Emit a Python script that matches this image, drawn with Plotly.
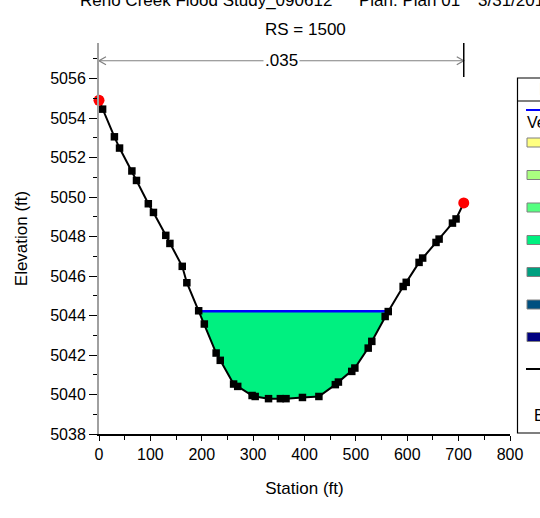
import numpy as np
import plotly.graph_objects as go

# ---------------- data ----------------
ground_sta = [0, 7, 30, 40, 64, 73, 96, 106, 130, 138, 162, 171, 194, 205, 228, 236,
              262, 270, 298, 304, 330, 353, 364, 396, 428, 460, 466, 492, 498, 524,
              531, 557, 563, 592, 598, 623, 630, 656, 662, 688, 695, 710]
ground_elev = [5054.90, 5054.45, 5053.05, 5052.48, 5051.32, 5050.84, 5049.66, 5049.22,
               5048.06, 5047.65, 5046.49, 5045.66, 5044.24, 5043.57, 5042.10, 5041.73,
               5040.53, 5040.41, 5039.95, 5039.90, 5039.79, 5039.79, 5039.79, 5039.85,
               5039.90, 5040.50, 5040.63, 5041.17, 5041.34, 5042.35, 5042.69, 5043.95,
               5044.20, 5045.47, 5045.68, 5046.69, 5046.91, 5047.70, 5047.87, 5048.68,
               5048.89, 5049.70]
bank_sta = [0, 710]
bank_elev = [5054.90, 5049.70]
ws_elev = 5044.22
n_value_label = ".035"
n_value_elev = 5056.9
x_ticks = [0, 100, 200, 300, 400, 500, 600, 700, 800]
y_ticks = [5038, 5040, 5042, 5044, 5046, 5048, 5050, 5052, 5054, 5056]
legend_colors = ["#FFFF80", "#AAFF80", "#55FF80", "#00F080", "#00A080", "#005080", "#000080"]

# ---------------- layout geometry (pixels) ----------------
W, H = 540, 518
L, R, T, B = 99, 510, 43, 434
XR = [0, 800]
YR = [5038, 5057.8]

def px(xp):
    return (xp - L) / (R - L)

def py(yp):
    return (B - yp) / (B - T)

FONT = "Liberation Sans, Arial, sans-serif"

gs = np.array(ground_sta, float)
ge = np.array(ground_elev, float)

# water surface crossing points on each bank
imin = int(np.argmin(ge))
left_x = float(np.interp(ws_elev, ge[:imin + 1][::-1], gs[:imin + 1][::-1]))
right_x = float(np.interp(ws_elev, ge[imin:], gs[imin:]))
inside = (gs > left_x) & (gs < right_x)
fill_x = [left_x] + list(gs[inside]) + [right_x]
fill_y = [ws_elev] + list(ge[inside]) + [ws_elev]

fig = go.Figure()
fig.add_trace(go.Scatter(x=fill_x, y=fill_y, fill="toself", fillcolor="#00F080",
                         mode="none", hoverinfo="skip", showlegend=False))
fig.add_trace(go.Scatter(x=[left_x, right_x], y=[ws_elev, ws_elev], mode="lines",
                         line=dict(color="#0000FF", width=2.5), showlegend=False))
fig.add_trace(go.Scatter(x=ground_sta, y=ground_elev, mode="lines+markers",
                         line=dict(color="black", width=2),
                         marker=dict(symbol="square", size=7.5, color="black"),
                         cliponaxis=False, showlegend=False))
fig.add_trace(go.Scatter(x=bank_sta, y=bank_elev, mode="markers",
                         marker=dict(symbol="circle", size=11, color="#FF0000"),
                         cliponaxis=False, showlegend=False))

shapes = []
annotations = []

# n-value line with open arrowheads
shapes.append(dict(type="line", xref="x", yref="y", x0=bank_sta[0], x1=bank_sta[1],
                   y0=n_value_elev, y1=n_value_elev, line=dict(color="#808080", width=1.2)))
for xa, d in ((bank_sta[0], 1), (bank_sta[1], -1)):
    shapes.append(dict(type="path", xref="x", yref="y", xsizemode="pixel", ysizemode="pixel",
                       xanchor=xa, yanchor=n_value_elev,
                       path=f"M {7*d},4 L 0,0 L {7*d},-4",
                       line=dict(color="#808080", width=1.2)))
shapes.append(dict(type="line", xref="x", yref="y", x0=bank_sta[1], x1=bank_sta[1],
                   y0=5056.08, y1=YR[1], line=dict(color="black", width=1.5)))
annotations.append(dict(x=(bank_sta[0] + bank_sta[1]) / 2, y=n_value_elev, xref="x", yref="y",
                        text=n_value_label, showarrow=False, bgcolor="white",
                        font=dict(family=FONT, size=17, color="black"), borderpad=1))

# titles
annotations.append(dict(x=px(78), y=py(12), xref="paper", yref="paper", xanchor="left",
                        yanchor="bottom", text="Reno Creek Flood Study_090612", showarrow=False,
                        font=dict(family=FONT, size=17, color="black")))
annotations.append(dict(x=px(357), y=py(12), xref="paper", yref="paper", xanchor="left",
                        yanchor="bottom", text="Plan: Plan 01", showarrow=False,
                        font=dict(family=FONT, size=17, color="black")))
annotations.append(dict(x=px(476), y=py(12), xref="paper", yref="paper", xanchor="left",
                        yanchor="bottom", text="3/31/2014", showarrow=False,
                        font=dict(family=FONT, size=17, color="black")))
annotations.append(dict(x=px(305), y=py(29), xref="paper", yref="paper", xanchor="center",
                        yanchor="middle", text="RS = 1500", showarrow=False,
                        font=dict(family=FONT, size=17, color="black")))

# legend box (cut off by window edge)
shapes.append(dict(type="rect", xref="paper", yref="paper", x0=px(517.5), x1=px(640),
                   y0=py(433), y1=py(78), line=dict(color="black", width=1.2),
                   fillcolor="white", layer="above"))
shapes.append(dict(type="line", xref="paper", yref="paper", x0=px(517.5), x1=px(640),
                   y0=py(101), y1=py(101), line=dict(color="black", width=1.2)))
annotations.append(dict(x=px(537), y=py(89), xref="paper", yref="paper", xanchor="left",
                        yanchor="middle", text="Legend", showarrow=False,
                        font=dict(family=FONT, size=16, color="#B0B0B0")))
shapes.append(dict(type="line", xref="paper", yref="paper", x0=px(526), x1=px(546),
                   y0=py(110), y1=py(110), line=dict(color="#0000FF", width=2)))
annotations.append(dict(x=px(525), y=py(123), xref="paper", yref="paper", xanchor="left",
                        yanchor="middle", text="Vel Total (ft/s)", showarrow=False,
                        font=dict(family=FONT, size=16, color="black")))
row_y = [142.5, 175, 207.5, 240, 272, 304.5, 337]
for c, yy in zip(legend_colors, row_y):
    shapes.append(dict(type="rect", xref="paper", yref="paper", x0=px(527), x1=px(560),
                       y0=py(yy + 4.5), y1=py(yy - 4.5), fillcolor=c,
                       line=dict(color="#808080", width=1), layer="above"))
shapes.append(dict(type="line", xref="paper", yref="paper", x0=px(526), x1=px(546),
                   y0=py(369), y1=py(369), line=dict(color="black", width=2)))
annotations.append(dict(x=px(532), y=py(415), xref="paper", yref="paper", xanchor="left",
                        yanchor="middle", text="Bank Sta", showarrow=False,
                        font=dict(family=FONT, size=16, color="black")))

fig.update_layout(
    width=W, height=H,
    margin=dict(l=L, r=W - R, t=T, b=H - B, pad=0),
    paper_bgcolor="white", plot_bgcolor="white",
    showlegend=False,
    shapes=shapes, annotations=annotations,
    font=dict(family=FONT, size=16, color="black"),
)
fig.update_xaxes(range=XR, tickvals=x_ticks, ticktext=[str(v) for v in x_ticks],
                 showgrid=False, zeroline=False, showline=True, linecolor="black", linewidth=2,
                 ticks="outside", ticklen=5, tickwidth=1, tickcolor="black",
                 minor=dict(dtick=50, ticks="outside", ticklen=4, tickcolor="black", tick0=0),
                 tickfont=dict(family=FONT, size=16, color="black"),
                 title=dict(text="Station (ft)", font=dict(family=FONT, size=17), standoff=20))
fig.update_yaxes(range=YR, tickvals=y_ticks, ticktext=[str(v) for v in y_ticks],
                 showgrid=False, zeroline=False, showline=True, linecolor="#A0A0A0", linewidth=2,
                 ticks="outside", ticklen=8, tickwidth=1, tickcolor="black",
                 minor=dict(dtick=1, ticks="outside", ticklen=4, tickcolor="black", tick0=5038),
                 tickfont=dict(family=FONT, size=16, color="black"),
                 title=dict(text="Elevation (ft)", font=dict(family=FONT, size=17), standoff=18))

fig.write_html("out.html")
